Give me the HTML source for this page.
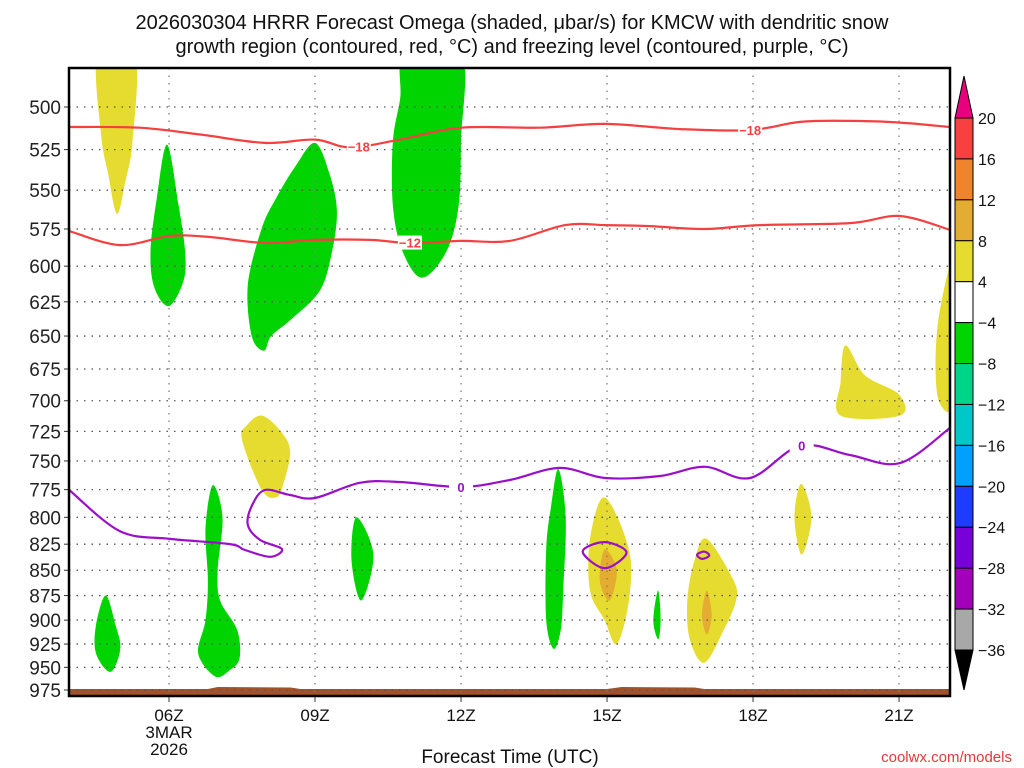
<!DOCTYPE html>
<html><head><meta charset="utf-8"><style>
body{margin:0;background:#fff;width:1024px;height:768px;overflow:hidden}
svg{display:block;font-family:"Liberation Sans",sans-serif}
</style></head><body>
<svg id="c" width="1024" height="768">
<text x="512" y="29" text-anchor="middle" font-size="20" fill="#111">2026030304 HRRR Forecast Omega (shaded, μbar/s) for KMCW with dendritic snow</text>
<text x="512" y="53" text-anchor="middle" font-size="20" fill="#111">growth region (contoured, red, °C) and freezing level (contoured, purple, °C)</text>
<g id="shade"></g><g id="grid"></g><g id="lines"></g><g id="axes"></g><g id="cbar"></g>
<text x="510" y="763" text-anchor="middle" font-size="19" fill="#111">Forecast Time (UTC)</text>
<text x="1012" y="762" text-anchor="end" font-size="15" fill="#e03a3a">coolwx.com/models</text>
</svg>
<script>
const pLevels=[500,525,550,575,600,625,650,675,700,725,750,775,800,825,850,875,900,925,950,975];
const hourTicks=[6,9,12,15,18,21];
const hourLabels=["06Z","09Z","12Z","15Z","18Z","21Z"];
const cbLevels=[20,16,12,8,4,-4,-8,-12,-16,-20,-24,-28,-32,-36];
const cbColors=["#f84040","#f0842c","#e4ac30","#e6dc30","#ffffff","#00d400","#00d488","#00c8c8","#00a0ff","#1e3cff","#7800d8","#a400bc","#a8a8a8"];
const m18H=[3.95,5.4,6.64,7.97,9,9.72,10.75,12,13.62,14.96,16.5,17.94,18.97,19.99,21.02,22.05];
const m18P=[511.6,512,516,521,519,523.7,519,512,512,509.8,512.8,513.4,508.6,508,509,511.6];
const m12H=[3.95,4.99,6.02,6.84,7.97,9,10.13,10.95,12,13.0,14.14,14.96,15.88,17.01,18.14,19.99,21.02,22.05];
const m12P=[576.3,585.7,579.6,580.3,584.3,582.2,582.2,584.3,582.9,582.9,572.4,572.4,573.1,575,572.4,571.1,566.5,575.6];
const fzH=[3.95,4.99,6.02,7.25,7.56,8.08,8.32,7.87,7.62,7.71,7.97,8.49,9,9.92,10.75,12,13.0,14.03,14.96,16.09,17.01,17.94,18.97,19.99,21.02,22.05];
const fzP=[775.4,812.7,820,824.9,830.5,837,829.6,821,807,788.8,775.4,779.8,782.5,769,768.3,772.7,766.5,756,764.8,763,755,764.8,737,744.9,751.8,722];
const fzLoopA_H=[14.5,14.95,15.4,14.95];
const fzLoopA_P=[832,823,833,848];
const fzLoopB_H=[16.85,17.0,17.1,16.95];
const fzLoopB_P=[835,832,836,839];
const blobs=[
[3,[4.54,5.3,5.25,5.1,4.93,4.75,4.6],[470,470,520,545,565,540,515]],
[5,[5.96,6.2,6.33,6.3,6.0,5.7,5.62,5.75],[522,560,590,610,628,615,590,555]],
[5,[9,9.3,9.45,9.35,9.1,8.5,8.1,7.95,7.7,7.62,7.9,8.2,8.6],[521,540,563,590,617,638,650,661,650,613,575,555,535]],
[5,[10.85,12.0,12.0,11.95,11.7,11.2,10.8,10.6,10.6,10.75],[470,470,520,560,590,608,590,560,520,495]],
[3,[7.91,8.3,8.49,8.35,8.2,7.9,7.5,7.6],[712,725,742,770,782,775,732,720]],
[3,[19.9,20.3,21.0,21.02,19.8,19.8],[657,680,695,712,712,685]],
[3,[22.2,21.8,21.8,22.2],[590,640,698,698]],
[3,[18.99,19.2,19.0,18.85],[770,800,835,800]],
[5,[6.9,7.1,7.0,7.05,7.4,7.45,7.25,6.95,6.6,6.75,6.8,6.75],[771,800,850,880,910,940,953,960,935,900,860,810]],
[5,[4.7,4.9,5.0,4.8,4.5,4.5],[875,905,930,955,935,905]],
[5,[9.85,10.2,9.95,9.75],[800,835,880,840]],
[5,[14.0,14.15,14.1,14.05,13.9,13.75,13.75,13.85],[757,800,870,910,930,900,830,790]],
[3,[14.95,15.45,15.45,15.2,14.95,14.65,14.65],[782,830,880,925,900,870,820]],
[2,[14.95,15.2,15.05,14.85],[830,850,880,860]],
[5,[16.05,16.1,16.05,15.95],[870,900,920,900]],
[3,[17.05,17.6,17.65,17.4,17.0,16.7,16.65,16.8],[820,860,880,910,945,920,880,840]],
[2,[17.05,17.15,17.05,16.95],[870,895,915,895]]
];
const L=69,R=950,T=68,B=696;
const xOf=h=>169+(h-6)*48.67;
const yOf=p=>107+873*Math.log(p/500);
const NS="http://www.w3.org/2000/svg";
function mk(tag,attrs,parent){const e=document.createElementNS(NS,tag);for(const k in attrs)e.setAttribute(k,attrs[k]);parent.appendChild(e);return e;}
const gid=id=>document.getElementById(id);
function spline(pts,closed){
 const n=pts.length;let d="M"+pts[0][0].toFixed(1)+" "+pts[0][1].toFixed(1);
 const get=i=>closed?pts[(i+n)%n]:pts[Math.max(0,Math.min(n-1,i))];
 const segs=closed?n:n-1;
 for(let i=0;i<segs;i++){
  const p0=get(i-1),p1=get(i),p2=get(i+1),p3=get(i+2);
  const c1=[p1[0]+(p2[0]-p0[0])/6,p1[1]+(p2[1]-p0[1])/6];
  const c2=[p2[0]-(p3[0]-p1[0])/6,p2[1]-(p3[1]-p1[1])/6];
  d+=` C${c1[0].toFixed(1)} ${c1[1].toFixed(1)} ${c2[0].toFixed(1)} ${c2[1].toFixed(1)} ${p2[0].toFixed(1)} ${p2[1].toFixed(1)}`;
 }
 return closed?d+"Z":d;
}
mk("clipPath",{id:"clip"},document.getElementById("c"));
mk("rect",{x:L,y:T,width:R-L,height:B-T},document.getElementById("clip"));
gid("shade").setAttribute("clip-path","url(#clip)");
gid("lines").setAttribute("clip-path","url(#clip)");
blobs.forEach((b,i)=>{
 const pts=b[1].map((h,j)=>[xOf(h),yOf(b[2][j])]);
 const e=mk("path",{d:spline(pts,true),fill:cbColors[b[0]]},gid("shade"));
 
 
});
const gr=mk("path",{d:`M${L} ${B} L${L} 689 L${xOf(6.8)} 689 L${xOf(7)} 687 L${xOf(8.5)} 687.5 L${xOf(8.7)} 689 L${xOf(15)} 689 L${xOf(15.3)} 687 L${xOf(16.8)} 687.5 L${xOf(17)} 689 L${R} 689 L${R} ${B}Z`,fill:"#a0522d"},gid("shade"));


pLevels.forEach(p=>{
 const y=yOf(p);
 const l=mk("line",{x1:L,x2:R,y1:y,y2:y,stroke:"#555","stroke-dasharray":"1.5 6","stroke-width":1.3},gid("grid"));
 
 
 mk("line",{x1:L-5,x2:L,y1:y,y2:y,stroke:"#333"},gid("axes"));
 const t=mk("text",{x:L-8,y:y+7,"text-anchor":"end","font-size":19,fill:"#222"},gid("axes"));
 t.textContent=p;
 
 
});
hourTicks.forEach((h,i)=>{
 const x=xOf(h);
 const l=mk("line",{x1:x,x2:x,y1:T,y2:B,stroke:"#777","stroke-dasharray":"1.5 6","stroke-width":1.2},gid("grid"));
 
 
 mk("line",{x1:x,x2:x,y1:B,y2:B+6,stroke:"#333"},gid("axes"));
 const t=mk("text",{x:x,y:B+25,"text-anchor":"middle","font-size":17,fill:"#111"},gid("axes"));
 t.textContent=hourLabels[i];
 
 
});
[["3MAR",B+42],["2026",B+59]].forEach(a=>{const t=mk("text",{x:xOf(6),y:a[1],"text-anchor":"middle","font-size":17,fill:"#111"},gid("axes"));t.textContent=a[0];
 
 });
function line(H,P,col,name,closed){
 const pts=H.map((h,j)=>[xOf(h),yOf(P[j])]);
 const e=mk("path",{d:spline(pts,!!closed),fill:"none",stroke:col,"stroke-width":2.2},gid("lines"));
 
 
}
line(m18H,m18P,"#f44040","contour-minus18");
line(m12H,m12P,"#f44040","contour-minus12");
line(fzH,fzP,"#9a10c8","freezing-level");
line(fzLoopA_H,fzLoopA_P,"#9a10c8","freezing-loop",true);
line(fzLoopB_H,fzLoopB_P,"#9a10c8","freezing-loop",true);
function lab(h,p,s,col){
 const x=xOf(h),y=yOf(p);
 mk("rect",{x:x-12,y:y-7,width:24,height:14,fill:"#fff"},gid("lines"));
 const t=mk("text",{x:x,y:y+5,"text-anchor":"middle","font-size":13,"font-weight":"bold",fill:col},gid("lines"));
 t.textContent=s;
 
 
}
lab(9.9,523,"−18","#f44040");lab(17.94,513.4,"−18","#f44040");lab(10.95,584,"−12","#f44040");
lab(12,772.7,"0","#9a10c8");lab(19.0,737,"0","#9a10c8");
const fr=mk("rect",{x:L,y:T,width:R-L,height:B-T,fill:"none",stroke:"#000","stroke-width":2.5},gid("axes"));


const cx=955,cw=18,cbTop=118,cbStep=(650-118)/13;
cbColors.forEach((c,i)=>{
 const r=mk("rect",{x:cx,y:cbTop+i*cbStep,width:cw,height:cbStep,fill:c,stroke:"#000","stroke-width":1},gid("cbar"));
 
 
});
mk("polygon",{points:`${cx},${cbTop} ${cx+cw},${cbTop} ${cx+cw/2},76`,fill:"#e8007c",stroke:"#000"},gid("cbar"));
mk("polygon",{points:`${cx},650 ${cx+cw},650 ${cx+cw/2},690`,fill:"#000",stroke:"#000"},gid("cbar"));
cbLevels.forEach((v,i)=>{
 const t=mk("text",{x:978,y:cbTop+i*cbStep+6,"font-size":16,fill:"#111"},gid("cbar"));
 t.textContent=v<0?"−"+(-v):v;
 
 
});
</script>
</body></html>
